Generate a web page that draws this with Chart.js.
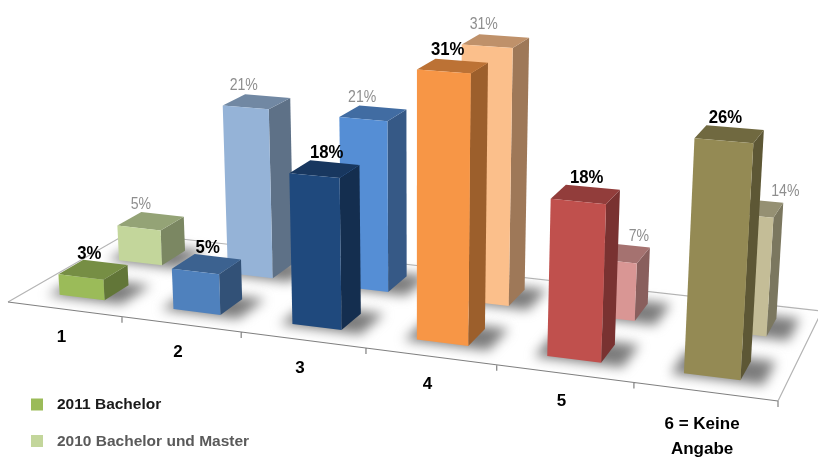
<!DOCTYPE html>
<html>
<head>
<meta charset="utf-8">
<title>Bachelor 2011 / 2010</title>
<script src="https://cdn.jsdelivr.net/npm/chart.js@4"></script>
<style>
  html, body { margin: 0; padding: 0; background: #fff; }
  canvas { display: block; filter: blur(0.4px); }
</style>
</head>
<body>
<canvas id="chart" width="818" height="457"></canvas>
<script>
// data
const categories = ['1', '2', '3', '4', '5', ['6 = Keine', 'Angabe']];
const seriesNames = ['2011 Bachelor', '2010 Bachelor und Master'];
const values2011 = [2.6, 5, 18, 31, 18, 26];
const values2010 = [4.6, 21.4, 21.2, 31, 7, 14];
const colors2011 = ['#9BBB59', '#4F81BD', '#1F497D', '#F79646', '#C0504D', '#948A54'];
const colors2010 = ['#C3D69B', '#95B3D7', '#558ED5', '#FBBF8B', '#D99694', '#C4BD97'];

// floor of the 3d scene, corners on screen
const FL = [8, 302], FR = [778, 401], BR = [822, 311], BL = [128, 233];
const depthBands = [[0.15, 0.35], [0.635, 0.85]]; // 2011 in front, 2010 behind
const rowShift = [-0.002, 0];
const vanish = [416, 6340];
const rise = -0.0014;
// hand placed labels, the original moved some of them off the bar centre
const labelNudge = [[-1, 4, 5, -2, 4, -1], [-10, -13, -11, -12, 21, 34]];

function makeFloor() {
    const dx1 = FR[0] - BR[0], dx2 = BL[0] - BR[0], sx = FL[0] - FR[0] + BR[0] - BL[0];
    const dy1 = FR[1] - BR[1], dy2 = BL[1] - BR[1], sy = FL[1] - FR[1] + BR[1] - BL[1];
    const den = dx1 * dy2 - dx2 * dy1;
    const g = (sx * dy2 - dx2 * sy) / den;
    const h = (dx1 * sy - sx * dy1) / den;
    const w0 = g * 0.6 + h * 0.15 + 1;
    return {
        a: (FR[0] - FL[0] + g * FR[0]) / w0, b: (BL[0] - FL[0] + h * BL[0]) / w0, c: FL[0] / w0,
        d: (FR[1] - FL[1] + g * FR[1]) / w0, e: (BL[1] - FL[1] + h * BL[1]) / w0, f: FL[1] / w0,
        g: g / w0, h: h / w0, i: 1 / w0
    };
}
const floor = makeFloor();

// u, v on the floor (0..1), z in percent points
function project(u, v, z) {
    const m = floor;
    const s = z * rise;
    const x = m.a * u + m.b * v + m.c + s * vanish[0];
    const y = m.d * u + m.e * v + m.f + s * vanish[1];
    const w = m.g * u + m.h * v + m.i + s;
    return [x / w, y / w];
}

function shade(hex, k) {
    const n = parseInt(hex.slice(1), 16);
    const r = Math.round((n >> 16) * k), g = Math.round(((n >> 8) & 255) * k), b = Math.round((n & 255) * k);
    return `rgb(${r},${g},${b})`;
}

function poly(ctx, pts, fill) {
    ctx.beginPath();
    pts.forEach((p, i) => i ? ctx.lineTo(p[0], p[1]) : ctx.moveTo(p[0], p[1]));
    ctx.closePath();
    ctx.fillStyle = fill;
    ctx.fill();
}

// the source text is squeezed a little sideways
function squeezedText(ctx, text, x, y, k) {
    ctx.save();
    ctx.translate(x, y);
    ctx.scale(k, 1);
    ctx.fillText(text, 0, 0);
    ctx.restore();
}

function drawFloor(ctx, chart) {
    const xs = chart.scales.x;
    const n = xs.getLabels().length;
    poly(ctx, [FL, FR, BR, BL], '#ffffff');
    ctx.lineWidth = 1.2;
    ctx.strokeStyle = '#b4b4b4';
    ctx.beginPath();
    ctx.moveTo(FL[0], FL[1]); ctx.lineTo(BL[0], BL[1]); ctx.lineTo(BR[0], BR[1]); ctx.lineTo(FR[0], FR[1]);
    ctx.stroke();
    ctx.strokeStyle = '#808080';
    ctx.beginPath();
    ctx.moveTo(FL[0], FL[1]); ctx.lineTo(FR[0], FR[1]);
    for (let i = 1; i <= n; i++) {
        const p = project(i / n, 0, 0);
        ctx.moveTo(p[0], p[1]); ctx.lineTo(p[0], p[1] + 6);
    }
    ctx.stroke();
}

function barBox(chart, ds, el) {
    const area = chart.chartArea;
    const u0 = (el.x - el.width / 2 - area.left) / area.width + rowShift[ds];
    const u1 = (el.x + el.width / 2 - area.left) / area.width + rowShift[ds];
    const z = chart.scales.y.getValueForPixel(el.y);
    return { u0, u1, v0: depthBands[ds][0], v1: depthBands[ds][1], z };
}

function drawShadow(ctx, b) {
    const grow = 0.014;
    ctx.save();
    ctx.filter = 'blur(6px)';
    poly(ctx, [
        project(b.u0 - grow, b.v0 - 0.02, 0), project(b.u1 + grow * 2, b.v0 - 0.02, 0),
        project(b.u1 + grow * 2, b.v1 + 0.03, 0), project(b.u0 - grow, b.v1 + 0.03, 0)
    ], '#7c7c7c');
    ctx.restore();
}

function drawBox(ctx, b, color) {
    const fbl = project(b.u0, b.v0, 0), fbr = project(b.u1, b.v0, 0), bbr = project(b.u1, b.v1, 0);
    const ftl = project(b.u0, b.v0, b.z), ftr = project(b.u1, b.v0, b.z);
    const btr = project(b.u1, b.v1, b.z), btl = project(b.u0, b.v1, b.z);
    poly(ctx, [fbr, bbr, btr, ftr], shade(color, 0.63));
    poly(ctx, [ftl, ftr, btr, btl], shade(color, 0.76));
    poly(ctx, [fbl, fbr, ftr, ftl], color);
}

const bars3d = {
    id: 'bars3d',
    beforeDatasetsDraw(chart) {
        const ctx = chart.ctx;
        const xs = chart.scales.x;
        drawFloor(ctx, chart);

        // back row first so the front row sits on top of it
        const order = [1, 0];
        order.forEach(ds => chart.getDatasetMeta(ds).data.forEach(el => drawShadow(ctx, barBox(chart, ds, el))));
        order.forEach(ds => {
            const set = chart.data.datasets[ds];
            chart.getDatasetMeta(ds).data.forEach((el, i) => drawBox(ctx, barBox(chart, ds, el), set.backgroundColor[i]));
        });

        // value labels
        ctx.textAlign = 'center';
        ctx.textBaseline = 'middle';
        order.forEach(ds => {
            const set = chart.data.datasets[ds];
            ctx.font = ds === 0 ? 'bold 19px "Liberation Sans"' : '16px "Liberation Sans"';
            ctx.fillStyle = ds === 0 ? '#000000' : '#8e8e8e';
            chart.getDatasetMeta(ds).data.forEach((el, i) => {
                const b = barBox(chart, ds, el);
                const p = project((b.u0 + b.u1) / 2, (b.v0 + b.v1) / 2, b.z);
                squeezedText(ctx, Math.round(set.data[i]) + '%', p[0] + labelNudge[ds][i] - (ds === 0 ? 3 : 0),
                    p[1] - 16, 0.88);
            });
        });

        // category labels below the front edge
        ctx.font = 'bold 17px "Liberation Sans"';
        ctx.fillStyle = '#000000';
        xs.getLabels().forEach((label, i) => {
            const p = project((i + 0.5) / xs.getLabels().length, 0, 0);
            const lines = [].concat(label);
            lines.forEach((t, k) => ctx.fillText(t, p[0] - 3, p[1] + 28 + (lines.length > 1 ? 5 : 0) + k * 25));
        });

        // legend, bottom left
        ctx.textAlign = 'left';
        ctx.font = 'bold 15.5px "Liberation Sans"';
        chart.data.datasets.forEach((set, ds) => {
            const y = 404.5 + ds * 36.5;
            ctx.fillStyle = set.backgroundColor[0];
            ctx.fillRect(31, y - 6, 12, 12);
            ctx.fillStyle = ds === 0 ? '#1a1a1a' : '#5a5a5a';
            ctx.fillText(set.label, 57, y + 0.5);
        });
        return false; // flat bars stay undrawn
    }
};

new Chart(document.getElementById('chart'), {
    type: 'bar',
    data: {
        labels: categories,
        datasets: [
            { label: seriesNames[0], data: values2011, backgroundColor: colors2011 },
            { label: seriesNames[1], data: values2010, backgroundColor: colors2010 }
        ]
    },
    options: {
        responsive: false,
        animation: false,
        layout: { padding: 0 },
        datasets: { bar: { grouped: false, categoryPercentage: 1, barPercentage: 0.40 } },
        scales: {
            x: { display: false },
            y: { display: false, min: 0, max: 40 }
        },
        plugins: { legend: { display: false }, tooltip: { enabled: false } }
    },
    plugins: [bars3d]
});
</script>
</body>
</html>
